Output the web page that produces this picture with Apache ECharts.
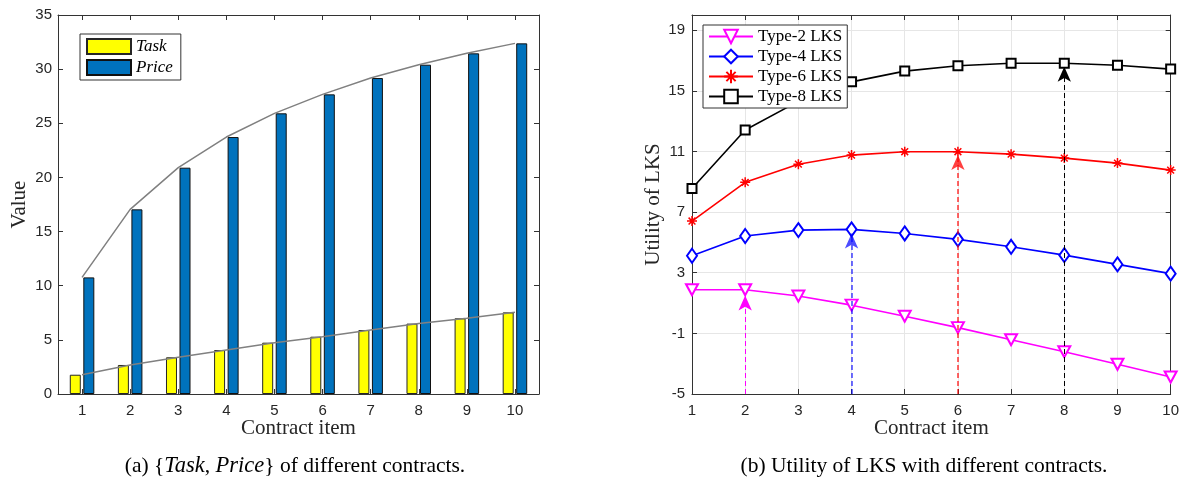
<!DOCTYPE html>
<html>
<head>
<meta charset="utf-8">
<script src="https://cdn.jsdelivr.net/npm/echarts@6/dist/echarts.min.js"></script>
<style>
html,body{margin:0;padding:0;background:#fff;}
#chart{width:1182px;height:481px;}
</style>
</head>
<body>
<div id="chart"></div>
<script>
// ---------- data ----------
const categories = [1, 2, 3, 4, 5, 6, 7, 8, 9, 10];
const taskValues = [1.78, 2.68, 3.39, 4.06, 4.74, 5.29, 5.91, 6.5, 6.99, 7.54];
const priceValues = [10.77, 17.05, 20.9, 23.73, 25.92, 27.67, 29.18, 30.41, 31.46, 32.38];
const leftYTicks = [0, 5, 10, 15, 20, 25, 30, 35];

const type2 = [1.88, 1.88, 1.46, 0.86, 0.13, -0.62, -1.42, -2.21, -3.04, -3.88];
const type4 = [4.12, 5.42, 5.81, 5.86, 5.59, 5.2, 4.71, 4.16, 3.55, 2.94];
const type6 = [6.41, 8.96, 10.16, 10.76, 10.98, 10.98, 10.82, 10.56, 10.23, 9.77];
const type8 = [8.56, 12.41, 14.3, 15.59, 16.3, 16.65, 16.82, 16.82, 16.69, 16.43];
const rightYTicks = [-5, -1, 3, 7, 11, 15, 19];
const rightYMax = 20;

const arrowX = [2, 4, 6, 8];                   // optimal contract for each type
const arrowTipY = [1.5, 5.59, 10.76, 16.58];   // arrow tip

const typeNames = ['Type-2 LKS', 'Type-4 LKS', 'Type-6 LKS', 'Type-8 LKS'];
// ---------- style ----------
const sans = '"Liberation Sans", Arial, Helvetica, sans-serif';
const serif = '"Liberation Serif", "Times New Roman", serif';
const axisColor = '#333333';
const textColor = '#262626';
const gridColor = '#e6e6e6';

const asterisk = 'path://M5,0L5,10M0,5L10,5M1.6,1.6L8.4,8.4M1.6,8.4L8.4,1.6';

function pairs(vals) { return categories.map((c, i) => [c, vals[i]]); }

const boxAxisLine = { show: true, onZero: false, lineStyle: { color: axisColor, width: 1 } };
const boxTick = { show: true, inside: true, length: 5, lineStyle: { color: axisColor, width: 1 } };
const tickLabel = { color: textColor, fontFamily: sans, fontSize: 15 };
const nameStyle = { color: textColor, fontFamily: serif, fontSize: 21 };

const colors = ['#ff00ff', '#0000ff', '#ff0000', '#000000'];
const symbols = ['emptyTriangle', 'emptyDiamond', asterisk, 'emptyRect'];
const symSizes = [[12, 11], [10, 14], [10, 10], [9, 9]];
const symRot = [180, 0, 0, 0];
const typeData = [type2, type4, type6, type8];
const dashWidth = [1, 1.6, 1.6, 1];
const dashOpacity = [1, 0.7, 0.75, 1];

const rightSeries = typeNames.map((name, k) => ({
  name: name,
  type: 'line',
  xAxisIndex: 2,
  yAxisIndex: 2,
  data: pairs(typeData[k]),
  symbol: symbols[k],
  symbolSize: symSizes[k],
  symbolRotate: symRot[k],
  symbolKeepAspect: false,
  showAllSymbol: true,
  color: colors[k],
  lineStyle: { color: colors[k], width: 1.6 },
  itemStyle: { color: colors[k], borderColor: colors[k], borderWidth: 1.5 },
  z: 3,
  markLine: {
    silent: true,
    symbol: ['none', 'arrow'],
    symbolSize: [10, 15],
    label: { show: false },
    lineStyle: { type: [5, 3], color: colors[k], width: dashWidth[k], opacity: dashOpacity[k] },
    data: [[{ coord: [arrowX[k], rightYTicks[0]] }, { coord: [arrowX[k], arrowTipY[k]] }]]
  }
}));

const option = {
  animation: false,
  backgroundColor: '#ffffff',
  grid: [
    { left: 58, top: 15, width: 481, height: 379 },
    { left: 692, top: 15, width: 480, height: 379 }
  ],
  xAxis: [
    { gridIndex: 0, type: 'category', data: categories, position: 'bottom',
      axisLine: boxAxisLine, axisTick: Object.assign({ alignWithLabel: true }, boxTick),
      axisLabel: Object.assign({ margin: 9 }, tickLabel),
      name: 'Contract item', nameLocation: 'middle', nameGap: 24, nameMoveOverlap: false, nameTextStyle: nameStyle },
    { gridIndex: 0, type: 'category', data: categories, position: 'top',
      axisLine: boxAxisLine, axisTick: Object.assign({ alignWithLabel: true }, boxTick),
      axisLabel: { show: false } },
    { gridIndex: 1, type: 'value', min: categories[0], max: categories[categories.length - 1], interval: 1, position: 'bottom',
      axisLine: boxAxisLine, axisTick: boxTick,
      axisLabel: Object.assign({ margin: 9 }, tickLabel),
      splitLine: { show: true, lineStyle: { color: gridColor, width: 1 } },
      name: 'Contract item', nameLocation: 'middle', nameGap: 24, nameMoveOverlap: false, nameTextStyle: nameStyle },
    { gridIndex: 1, type: 'value', min: categories[0], max: categories[categories.length - 1], interval: 1, position: 'top',
      axisLine: boxAxisLine, axisTick: boxTick, axisLabel: { show: false }, splitLine: { show: false } }
  ],
  yAxis: [
    { gridIndex: 0, type: 'value', min: leftYTicks[0], max: leftYTicks[leftYTicks.length - 1], interval: 5, position: 'left',
      axisLine: boxAxisLine, axisTick: boxTick,
      axisLabel: Object.assign({ margin: 6 }, tickLabel),
      splitLine: { show: false },
      name: 'Value', nameLocation: 'middle', nameGap: 28, nameMoveOverlap: false, nameRotate: 90, nameTextStyle: nameStyle },
    { gridIndex: 0, type: 'value', min: leftYTicks[0], max: leftYTicks[leftYTicks.length - 1], interval: 5, position: 'right',
      axisLine: boxAxisLine, axisTick: boxTick, axisLabel: { show: false }, splitLine: { show: false } },
    { gridIndex: 1, type: 'value', min: rightYTicks[0], max: rightYMax, interval: 4, position: 'left',
      axisLine: boxAxisLine, axisTick: boxTick,
      axisLabel: Object.assign({ margin: 7, formatter: v => rightYTicks.indexOf(v) >= 0 ? String(v) : '' }, tickLabel),
      splitLine: { show: true, lineStyle: { color: gridColor, width: 1 } },
      name: 'Utility of LKS', nameLocation: 'middle', nameGap: 28, nameMoveOverlap: false, nameRotate: 90, nameTextStyle: nameStyle },
    { gridIndex: 1, type: 'value', min: rightYTicks[0], max: rightYMax, interval: 4, position: 'right',
      axisLine: boxAxisLine, axisTick: boxTick, axisLabel: { show: false }, splitLine: { show: false } }
  ],
  legend: [
    { data: ['Task', 'Price'], orient: 'vertical', left: 80, top: 34,
      icon: 'rect', itemWidth: 44, itemHeight: 15, itemGap: 4,
      padding: [4, 8, 4, 6], borderColor: axisColor, borderWidth: 1, backgroundColor: '#fff',
      textStyle: { fontFamily: serif, fontStyle: 'italic', fontSize: 17, color: '#000' },
      selectedMode: false },
    { data: typeNames, orient: 'vertical', left: 703, top: 25,
      itemWidth: 44, itemHeight: 17, itemGap: 3,
      padding: [3, 5, 3, 5], borderColor: axisColor, borderWidth: 1, backgroundColor: '#fff',
      textStyle: { fontFamily: serif, fontSize: 17, color: '#000' },
      selectedMode: false }
  ],
  series: [
    { name: 'Task', type: 'bar', xAxisIndex: 0, yAxisIndex: 0, data: taskValues,
      barWidth: 11, barGap: '23%',
      itemStyle: { color: '#ffff00', borderColor: '#262626', borderWidth: 1 } },
    { name: 'Price', type: 'bar', xAxisIndex: 0, yAxisIndex: 0, data: priceValues,
      barWidth: 11, barGap: '23%',
      itemStyle: { color: '#0072bd', borderColor: '#111', borderWidth: 1 } },
    { name: 'taskTrend', type: 'line', xAxisIndex: 0, yAxisIndex: 0, data: taskValues,
      symbol: 'none', lineStyle: { color: '#808080', width: 1.5 }, z: 5 },
    { name: 'priceTrend', type: 'line', xAxisIndex: 0, yAxisIndex: 0, data: priceValues,
      symbol: 'none', lineStyle: { color: '#808080', width: 1.5 }, z: 5 }
  ].concat(rightSeries),
  graphic: [
    { type: 'text', x: 295, y: 466,
      style: { text: '(a) {{i|Task}, {i|Price}} of different contracts.',
        fill: '#000', fontFamily: serif, fontSize: 21.5, align: 'center', verticalAlign: 'middle',
        rich: { i: { fontFamily: serif, fontStyle: 'italic', fontSize: 22.5, fill: '#000' } } } },
    { type: 'text', x: 924, y: 466,
      style: { text: '(b) Utility of LKS with different contracts.',
        fill: '#000', fontFamily: serif, fontSize: 21.5, align: 'center', verticalAlign: 'middle' } }
  ]
};

const chart = echarts.init(document.getElementById('chart'), null, { renderer: 'canvas' });
chart.setOption(option);
</script>
</body>
</html>
